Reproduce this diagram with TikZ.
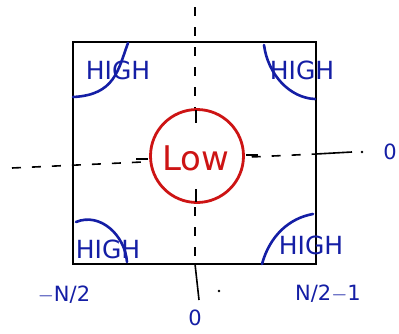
\documentclass[tikz,border=0pt]{standalone}
\usepackage{fontspec}
\setmainfont{DejaVu Sans}
\definecolor{pen}{RGB}{20,30,165}
\definecolor{redpen}{RGB}{205,20,20}
\begin{document}
\begin{tikzpicture}[x=1pt,y=-1pt,
  blk/.style={line width=2.6pt,black},
  axis/.style={line width=1.6pt,black,dash pattern=on 9pt off 11pt},
  bl/.style={line width=2.6pt,draw=pen,line cap=round},
  hi/.style={text=pen,font=\fontsize{25}{25}\selectfont,inner sep=0pt},
  lbl/.style={text=pen,font=\fontsize{21}{21}\selectfont,inner sep=0pt}]
\useasboundingbox[fill=white] (0,0) rectangle (399,333);
% square
\draw[blk] (73,42) rectangle (316,264);
% axes
\coordinate (vt) at (195,7);
\coordinate (vb) at (195,264);
\coordinate (ve) at (199,300);
\draw[axis] (vt) -- (vb);
\draw[line width=1.6pt] (vb) -- (ve);
\coordinate (hl) at (12,168);
\coordinate (hr) at (316,154);
\coordinate (he) at (352,152);
\draw[axis] (hl) -- (hr);
\draw[line width=1.6pt] (hr) -- (he);
\fill (362,152) circle (1.3pt);
\fill (219,291) circle (1.3pt);
% circle
\node[draw=redpen,fill=white,line width=2.8pt,circle,minimum size=93pt,inner sep=0pt] (c) at (197,156) {};
\draw[line width=1.6pt] (c.north) ++(-1,2) -- ++(0,13);
\draw[line width=1.6pt] (c.south) ++(-1,-2) -- ++(0,-13);
\draw[line width=1.6pt] (c.west) ++(-1,3) -- ++(-12,0);
\draw[line width=1.6pt] (c.east) ++(1,-1) -- ++(12,0);
\node[text=redpen,font=\fontsize{34}{34}\selectfont] (low) at (196,158) {Low};
% HIGH labels
\node[hi] (h1) at (118,70) {HIGH};
\node[hi] (h2) at (302,70) {HIGH};
\node[hi] (h3) at (108,249) {HIGH};
\node[hi] (h4) at (311,245) {HIGH};
% arcs
\draw[bl] (73,97) .. controls (115,95) and (118,70) .. (128,43);
\draw[bl] (264,45) .. controls (268,75) and (290,98) .. (315,99);
\draw[bl] (76,222) .. controls (100,212) and (125,235) .. (127,262);
\draw[bl] (262,264) .. controls (270,235) and (290,218) .. (313,214);
% edge labels
\node[lbl] (z1) at (390,152) {0};
\node[lbl] (z2) at (195,318) {0};
\node[lbl] (nl) at (64,295) {$-$N/2};
\node[lbl] (nr) at (328,294) {N/2$-$1};
\end{tikzpicture}
\end{document}
